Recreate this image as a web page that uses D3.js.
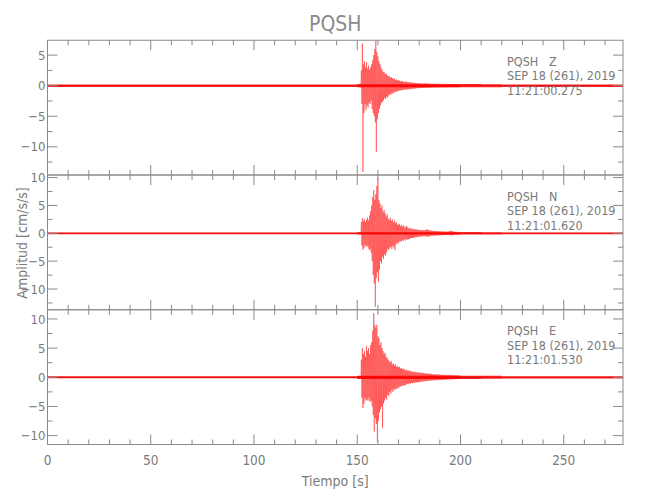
<!DOCTYPE html>
<html><head><meta charset="utf-8">
<script src="https://cdn.jsdelivr.net/npm/d3@7"></script>
<style>
body{margin:0;background:#fff}
text{font-family:"Liberation Sans Narrow","DejaVu Sans Condensed","Liberation Sans",sans-serif;fill:#7a7a7a}
</style>
</head><body>
<svg id="c" width="650" height="500"></svg>
<script>
// ---------------- data ----------------
const title = "PQSH";
const station = "PQSH";
const components = ["Z", "N", "E"];
const dateLabels = ["SEP 18 (261), 2019", "SEP 18 (261), 2019", "SEP 18 (261), 2019"];
const timeLabels = ["11:21:00.275", "11:21:01.620", "11:21:01.530"];
const xLabel = "Tiempo [s]";
const yLabel = "Amplitud [cm/s/s]";
const xDomain = [0, 278.7];
const yDomainZ = [-14.61, 7.43];
const yDomainN = [-13.72, 10.46];
const yDomainE = [-11.52, 11.58];
const xTickValues = [0, 50, 100, 150, 200, 250];
const yTickValues = [-10, -5, 0, 5, 10];

// burst window: min/max envelope per 0.5 s bin starting at 150 s
const burstStart = 150, burstStep = 0.5;
const zUp = [0.25,0.2,0.25,0.3,2.5,6.9,3.5,4.0,3.0,3.8, 2.8,3.3,2.6,3.0,3.5,4.2,5.0,6.0,7.3,5.5,
  4.8,4.0,3.5,3.0,2.6,2.2,2.3,1.9,2.0,1.7, 1.5,1.6,1.3,1.4,1.2,1.1,1.2,0.9,1.0,0.8,
  0.9,0.8,0.7,0.8,0.7,0.6,0.7,0.6,0.65,0.55, 0.6,0.5,0.55,0.5,0.45,0.5,0.45,0.4,0.45,0.4,
  0.4,0.35,0.4,0.35,0.38,0.35,0.4,0.33,0.35,0.32, 0.35,0.3,0.33,0.3,0.32,0.3,0.33,0.28,0.3,0.3,
  0.3,0.28,0.3,0.27,0.3,0.28,0.26,0.3,0.27,0.28, 0.26,0.28,0.25,0.27,0.26,0.25,0.27,0.25,0.26,0.25];
const zDn = [0.2,0.25,0.2,0.3,3.0,14.1,4.5,3.0,4.0,3.2, 3.6,2.8,3.0,2.5,3.8,4.5,5.0,6.0,10.8,5.5,
  4.5,3.8,3.2,2.8,2.6,2.4,2.0,2.2,1.8,1.9, 1.6,1.4,1.5,1.2,1.3,1.0,1.1,1.0,0.9,0.9,
  0.8,0.75,0.8,0.7,0.65,0.7,0.6,0.65,0.6,0.55, 0.6,0.5,0.55,0.5,0.45,0.5,0.45,0.4,0.42,0.4,
  0.38,0.4,0.35,0.38,0.35,0.36,0.33,0.35,0.32,0.34, 0.3,0.33,0.3,0.31,0.29,0.3,0.28,0.3,0.28,0.29,
  0.28,0.27,0.28,0.26,0.27,0.28,0.25,0.27,0.26,0.25, 0.26,0.25,0.24,0.26,0.25,0.24,0.25,0.24,0.25,0.24];
const nUp = [0.15,0.15,0.18,0.15,2.0,2.7,2.2,2.5,2.0,2.4, 2.8,2.3,3.2,4.0,5.0,6.5,7.8,6.0,7.0,8.5,
  9.9,6.0,5.4,4.5,5.0,3.8,4.2,3.6,3.0,3.4, 2.6,2.4,2.8,2.2,2.5,2.0,2.3,1.8,2.0,1.6,
  1.5,1.7,1.3,1.5,1.2,1.4,1.0,1.2,1.3,1.0, 0.9,0.85,0.9,0.8,0.75,0.8,0.7,0.65,0.7,0.6,
  0.6,0.55,0.6,0.5,0.55,0.5,0.6,0.65,0.7,0.6, 0.5,0.45,0.5,0.42,0.45,0.4,0.42,0.38,0.4,0.35,
  0.38,0.33,0.35,0.32,0.33,0.3,0.32,0.3,0.3,0.35, 0.4,0.45,0.4,0.3,0.28,0.25,0.26,0.24,0.25,0.22];
const nDn = [0.15,0.18,0.15,0.15,2.2,3.0,2.6,2.0,2.4,2.2, 2.5,3.0,2.8,3.5,5.0,7.5,9.0,13.2,8.0,7.0,
  8.7,6.5,5.0,5.4,4.2,4.6,3.8,4.0,3.4,2.8, 3.0,2.6,2.4,2.8,2.2,2.5,3.0,2.0,1.7,1.9,
  1.6,1.4,1.5,1.2,1.4,1.1,1.3,1.0,1.2,1.1, 1.0,0.9,0.85,0.8,0.85,0.75,0.7,0.72,0.65,0.62,
  0.6,0.58,0.55,0.55,0.5,0.52,0.55,0.6,0.62,0.55, 0.5,0.48,0.45,0.45,0.42,0.42,0.4,0.4,0.38,0.36,
  0.35,0.35,0.33,0.33,0.32,0.3,0.3,0.3,0.3,0.32, 0.35,0.38,0.35,0.3,0.27,0.25,0.25,0.23,0.24,0.22];
const eUp = [0.2,0.18,0.2,0.22,3.0,5.0,4.0,4.5,3.5,5.4, 4.5,5.0,4.0,5.5,6.0,8.0,11.0,9.0,8.5,9.0,
  7.0,6.7,5.5,6.0,5.0,4.5,4.0,4.2,3.5,3.3, 3.0,2.7,2.5,2.8,2.2,2.4,2.0,2.2,1.8,1.9,
  1.7,1.8,1.5,1.6,1.4,1.5,1.3,1.2,1.3,1.1, 1.2,1.0,1.1,0.95,1.0,0.9,0.95,0.85,0.9,0.8,
  0.85,0.75,0.8,0.7,0.75,0.65,0.7,0.6,0.65,0.6, 0.6,0.55,0.6,0.5,0.55,0.5,0.52,0.48,0.5,0.45,
  0.48,0.42,0.45,0.4,0.42,0.4,0.4,0.38,0.4,0.36, 0.38,0.35,0.36,0.33,0.35,0.32,0.33,0.3,0.32,0.3];
const eDn = [0.2,0.2,0.18,0.2,3.5,5.3,4.5,3.5,4.0,3.8, 4.0,3.5,4.2,4.0,5.0,6.5,9.3,7.0,8.0,11.0,
  7.5,6.0,5.5,5.0,8.7,4.5,4.0,3.5,3.8,3.0, 3.2,2.5,2.8,2.2,2.5,2.0,2.2,1.9,2.0,1.7,
  1.8,1.5,1.6,1.4,1.5,1.3,1.4,1.2,1.1,1.2, 1.0,1.1,0.95,1.0,0.9,0.95,0.85,0.9,0.8,0.85,
  0.75,0.8,0.7,0.75,0.65,0.7,0.6,0.65,0.6,0.58, 0.55,0.58,0.5,0.55,0.5,0.5,0.48,0.5,0.45,0.46,
  0.42,0.45,0.4,0.42,0.4,0.38,0.4,0.36,0.38,0.35, 0.36,0.33,0.35,0.32,0.33,0.3,0.32,0.3,0.3,0.28];

// background noise half-amplitude per 10 s block (0..280 s)
const noiseBlock = 10;
const zNoise = [0.2,0.2,0.2,0.2,0.2,0.2,0.2,0.2,0.2,0.2,0.2,0.2,0.2,0.2,0.2,0.25,0.25,0.25,0.25,0.25,0.26,0.24,0.2,0.2,0.2,0.2,0.2,0.2];
const nNoise = [0.16,0.16,0.16,0.16,0.16,0.16,0.16,0.16,0.16,0.16,0.16,0.16,0.16,0.16,0.16,0.2,0.2,0.2,0.2,0.2,0.22,0.2,0.16,0.16,0.16,0.16,0.16,0.16];
const eNoise = [0.18,0.18,0.18,0.18,0.18,0.18,0.18,0.18,0.18,0.18,0.18,0.18,0.18,0.18,0.18,0.28,0.28,0.28,0.28,0.28,0.28,0.25,0.2,0.2,0.2,0.2,0.2,0.2];

// ---------------- drawing ----------------
const traces = [
  {comp: components[0], dom: yDomainZ, up: zUp, dn: zDn, noise: zNoise, date: dateLabels[0], time: timeLabels[0]},
  {comp: components[1], dom: yDomainN, up: nUp, dn: nDn, noise: nNoise, date: dateLabels[1], time: timeLabels[1]},
  {comp: components[2], dom: yDomainE, up: eUp, dn: eDn, noise: eNoise, date: dateLabels[2], time: timeLabels[2]}
];

const svg = d3.select("#c");
const L = 47.5, R = 623, top0 = 40.25, PH = 134.75;
const axisCol = "#8a8a8a", red = "#ff0000";
const x = d3.scaleLinear().domain(xDomain).range([L, R]);
const fmt = d3.format("d");

svg.append("text").attr("x", (L + R) / 2).attr("y", 31).attr("text-anchor", "middle")
  .style("font-size", "21px").style("fill", "#8a8a8a").text(title);

traces.forEach((tr, k) => {
  const t = top0 + k * PH, b = t + PH;
  const y = d3.scaleLinear().domain(tr.dom).range([b, t]);
  const g = svg.append("g");
  const cid = "clip" + k;
  svg.append("clipPath").attr("id", cid).append("rect")
    .attr("x", L).attr("y", t).attr("width", R - L).attr("height", PH);
  const pg = g.append("g").attr("clip-path", `url(#${cid})`);

  // noise band
  const nd = tr.noise.map((v, i) => [i * noiseBlock, v]);
  nd.push([tr.noise.length * noiseBlock, tr.noise[tr.noise.length - 1]]);
  pg.append("path").datum(nd)
    .attr("d", d3.area().x(d => x(d[0])).y0(d => y(-d[1])).y1(d => y(d[1])).curve(d3.curveStepAfter))
    .attr("fill", red).attr("opacity", 0.85);
  pg.append("line").attr("x1", L).attr("x2", R).attr("y1", y(0)).attr("y2", y(0))
    .attr("stroke", "#e00000").attr("stroke-width", 0.7);

  // burst min/max envelope rendered as oscillation
  const pts = [];
  tr.up.forEach((u, i) => {
    const t0 = burstStart + i * burstStep;
    pts.push([t0, u]);
    pts.push([t0 + burstStep / 2, -tr.dn[i]]);
  });
  pg.append("path").datum(pts)
    .attr("d", d3.line().x(d => x(d[0])).y(d => y(d[1])))
    .attr("fill", "none").attr("stroke", red).attr("stroke-width", 0.5).attr("stroke-opacity", 0.85);

  // frame
  g.append("rect").attr("x", L).attr("y", t).attr("width", R - L).attr("height", PH)
    .attr("fill", "none").attr("stroke", axisCol).attr("stroke-width", 1);

  // x ticks
  d3.range(0, xDomain[1], 10).forEach(v => {
    const len = v % 50 === 0 ? 10 : 5;
    const xx = x(v);
    g.append("line").attr("x1", xx).attr("x2", xx).attr("y1", t).attr("y2", t + len).attr("stroke", axisCol);
    g.append("line").attr("x1", xx).attr("x2", xx).attr("y1", b).attr("y2", b - len).attr("stroke", axisCol);
  });
  // y ticks
  d3.range(-15, 15.1, 2.5).filter(v => v >= tr.dom[0] && v <= tr.dom[1]).forEach(v => {
    const len = v % 5 === 0 ? 10 : 5;
    const yy = y(v);
    g.append("line").attr("x1", L).attr("x2", L + len).attr("y1", yy).attr("y2", yy).attr("stroke", axisCol);
    g.append("line").attr("x1", R).attr("x2", R - len).attr("y1", yy).attr("y2", yy).attr("stroke", axisCol);
  });
  yTickValues.filter(v => v >= tr.dom[0] && v <= tr.dom[1]).forEach(v => {
    g.append("text").attr("x", L - 2).attr("y", y(v)).attr("dy", "0.36em")
      .attr("text-anchor", "end").style("font-size", "13px").text(fmt(v));
  });

  // annotation
  const ax = 507;
  g.append("text").attr("x", ax).attr("y", t + 25.5).style("font-size", "12.5px").attr("xml:space", "preserve")
    .text(station + "   " + tr.comp);
  g.append("text").attr("x", ax).attr("y", t + 40).style("font-size", "12.5px").text(tr.date);
  g.append("text").attr("x", ax).attr("y", t + 54.5).style("font-size", "12.5px").text(tr.time);

  if (k === traces.length - 1) {
    xTickValues.forEach(v => {
      g.append("text").attr("x", x(v)).attr("y", b + 20).attr("text-anchor", "middle")
        .style("font-size", "13.5px").text(fmt(v));
    });
  }
});

svg.append("text").attr("x", (L + R) / 2).attr("y", 486).attr("text-anchor", "middle")
  .style("font-size", "14px").text(xLabel);
svg.append("text").attr("transform", "translate(27,243) rotate(-90)").attr("text-anchor", "middle")
  .style("font-size", "14px").text(yLabel);
</script>
</body></html>
